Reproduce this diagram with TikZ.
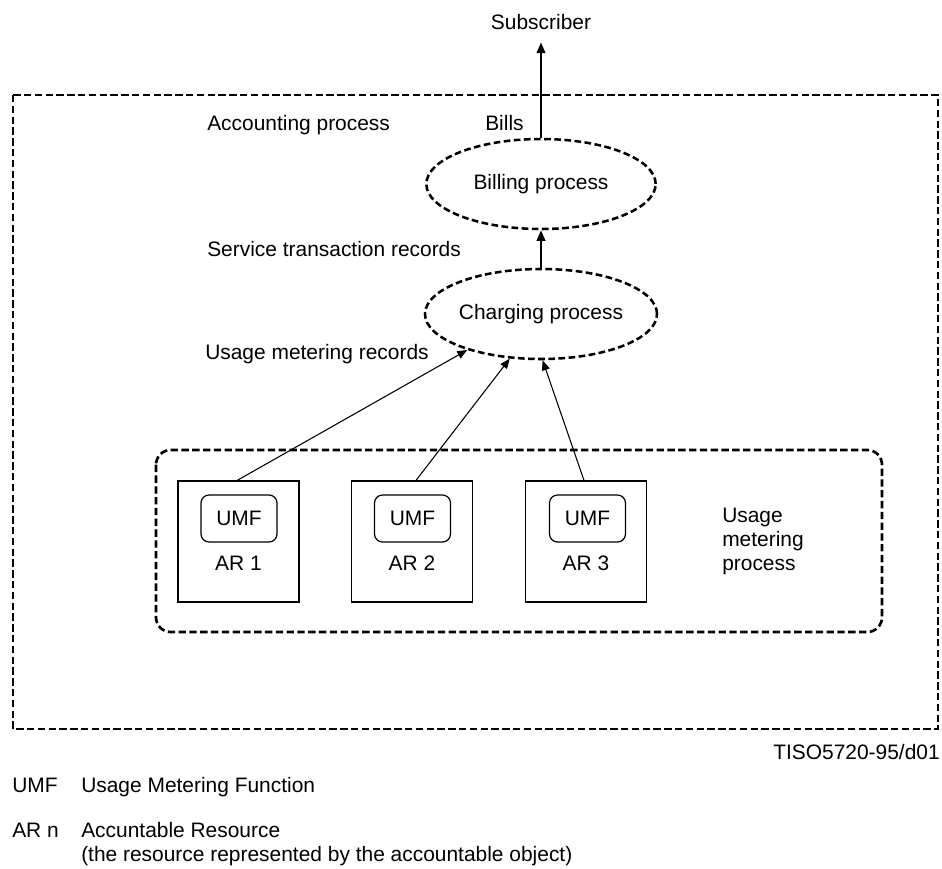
\documentclass[tikz,border=0pt]{standalone}
\usepackage{fontspec}
\setmainfont{Liberation Sans}
\usetikzlibrary{arrows.meta,shapes.geometric}
\begin{document}
\begin{tikzpicture}[x=0.75pt,y=-0.75pt,
  every node/.style={font=\fontsize{15.7}{18}\selectfont, inner sep=0pt},
  lbl/.style={anchor=base west},
  dashline/.style={line width=2pt, dash pattern=on 5.5pt off 2.6pt},
  proc/.style={draw, ellipse, line width=1.9pt, dash pattern=on 5pt off 2.6pt,
               minimum width=172pt, minimum height=67.5pt},
  arbox/.style={draw, line width=0.9pt, minimum width=90.75pt, minimum height=90.75pt},
  umfbox/.style={draw, line width=0.9pt, rounded corners=6pt, minimum width=57pt, minimum height=35.25pt},
  arr/.style={line width=0.8pt, -{Triangle[length=7.5pt,width=6pt]}},
  thickarr/.style={line width=1.5pt, -{Triangle[length=8pt,width=6.5pt]}}]
\useasboundingbox (0,0) rectangle (942,868);

% outer and inner process frames
\draw[dashline] (13,95) rectangle (938,729);
\draw[dashline, rounded corners=11pt] (156,450) rectangle (882,632);

% top
\node[anchor=base] (sub) at (541,29) {Subscriber};
\node[lbl] (acc) at (207,130) {Accounting process};
\node[lbl] (bills) at (485,130) {Bills};

\node[proc] (bill) at (541,184) {Billing process};
\node[lbl] (str) at (207,256) {Service transaction records};
\node[proc] (charge) at (541,314) {Charging process};
\node[lbl] (umr) at (205,359) {Usage metering records};

\draw[thickarr, shorten >=9.75pt] (bill.north) -- (sub.south);
\draw[thickarr] (charge.north) -- (bill.south);

% accountable resources
\node[arbox] (ar1) at (238.5,541.5) {};
\node[arbox] (ar2) at (412,541.5) {};
\node[arbox] (ar3) at (586,541.5) {};

\node[umfbox] (umf1) at (239,518.5) {UMF};
\node[umfbox] (umf2) at (412.5,518.5) {UMF};
\node[umfbox] (umf3) at (587.5,518.5) {UMF};

\node[anchor=base] (l1) at (238.5,570) {AR 1};
\node[anchor=base] (l2) at (412,570) {AR 2};
\node[anchor=base] (l3) at (586,570) {AR 3};

\node[anchor=west, align=left] (ump) at (722,541) {Usage\\metering\\process};

\draw[arr] ([xshift=-1pt]ar1.north) -- (charge.206);
\draw[arr] ([xshift=3pt]ar2.north) -- (charge.235);
\draw[arr] ([xshift=-1.5pt]ar3.north) -- (charge.272);

% reference and legend
\node[anchor=base east] (tiso) at (940,759) {TISO5720-95/d01};
\node[lbl] (k1) at (12,792) {UMF};
\node[lbl] (d1) at (81,792) {Usage Metering Function};
\node[lbl] (k2) at (12,837) {AR n};
\node[lbl] (d2) at (81,837) {Accuntable Resource};
\node[lbl] (d3) at (81,861) {(the resource represented by the accountable object)};
\end{tikzpicture}
\end{document}
